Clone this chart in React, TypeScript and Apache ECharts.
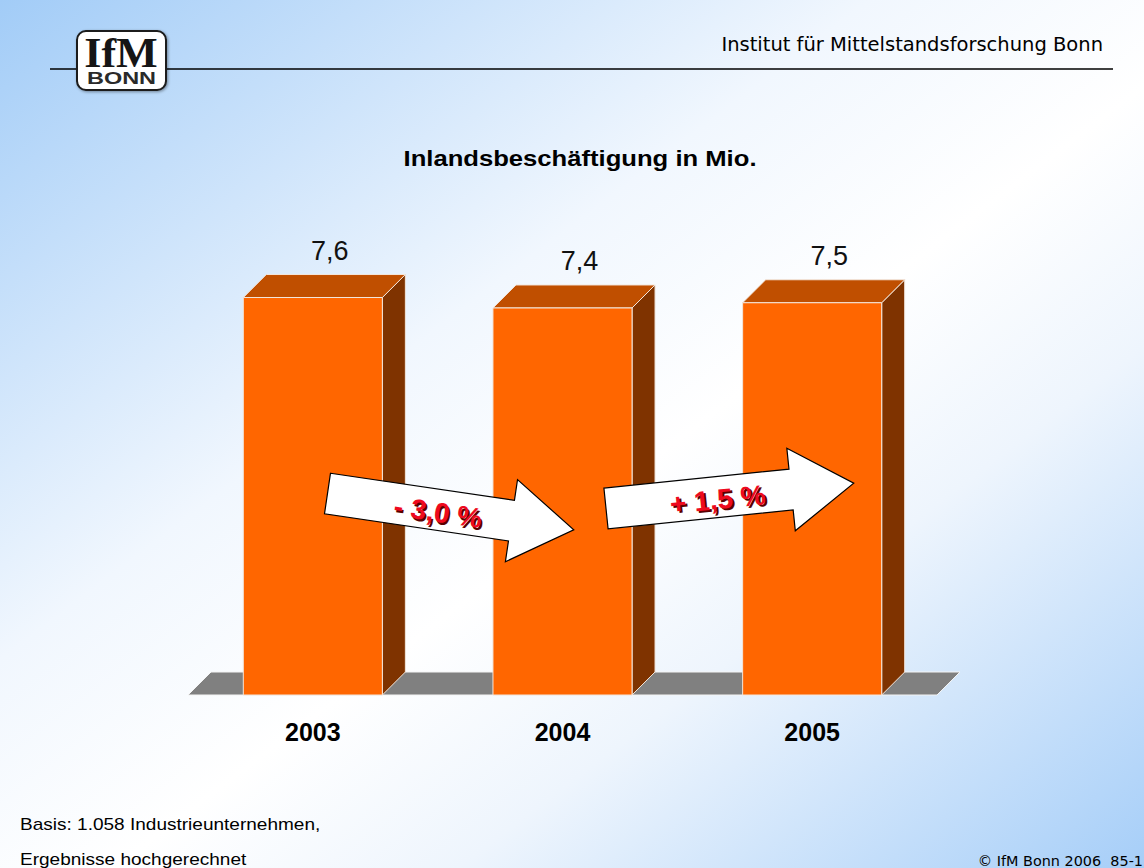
import React, { useEffect, useRef } from "react";
import * as echarts from "echarts";

const years = ["2003", "2004", "2005"];
const employment = [7.6, 7.4, 7.5];
const changeLabels = ["- 3,0 %", "+ 1,5 %"];
const titleText = "Inlandsbeschäftigung in Mio.";
const headerText = "Institut für Mittelstandsforschung Bonn";
const footerLines = ["Basis: 1.058 Industrieunternehmen,", "Ergebnisse hochgerechnet"];
const copyrightText = "© IfM Bonn 2006  85-1";

const SANS = '"Liberation Sans", Arial, sans-serif';
const VERDANA = '"DejaVu Sans", Verdana, sans-serif';
const DX = 23;
const DY = 23;

function txt(x: number, y: number, text: string, font: string, fill: string, align = "center", vAlign = "middle", extra: any = {}) {
  return {
    type: "text",
    x,
    y,
    ...extra,
    style: { text, font, fill, align, verticalAlign: vAlign, textAlign: align, textVerticalAlign: vAlign },
  };
}

function arrow(x: number, y: number, rotation: number, label: string) {
  const pts = [
    [0, -20.5],
    [186, -20.5],
    [186, -41.5],
    [249, 0],
    [186, 41.5],
    [186, 20.5],
    [0, 20.5],
  ];
  return {
    type: "group",
    x,
    y,
    rotation,
    z: 100,
    children: [
      { type: "polygon", z: 100, shape: { points: pts }, style: { fill: "#ffffff", stroke: "#000000", lineWidth: 1.2 } },
      txt(114, 4.5, label, `bold 28px ${SANS}`, "#5a0000", "center", "middle", { z: 101 }),
      txt(112, 2.5, label, `bold 28px ${SANS}`, "#ee0a1e", "center", "middle", { z: 102 }),
    ],
  };
}

export default function App() {
  const ref = useRef<HTMLDivElement>(null);
  useEffect(() => {
    if (!ref.current) return;
    const chart = echarts.init(ref.current, null, { renderer: "svg" });
    const option: any = {
      animation: false,
      backgroundColor: new echarts.graphic.LinearGradient(0, 0, 1, 1, [
        { offset: 0, color: "#a2ccf7" },
        { offset: 0.38, color: "#f1f7fe" },
        { offset: 0.55, color: "#ffffff" },
        { offset: 0.7, color: "#eef5fd" },
        { offset: 1, color: "#a6cef8" },
      ]),
      grid: { left: 188, right: 207, top: 172, bottom: 173 },
      xAxis: {
        type: "category",
        data: years,
        axisLine: { show: false },
        axisTick: { show: false },
        axisLabel: { fontSize: 25, fontWeight: "bold", color: "#000", fontFamily: SANS, margin: 24 },
      },
      yAxis: { type: "value", min: 0, max: 10, show: false, splitLine: { show: false } },
      series: [
        {
          type: "custom",
          silent: true,
          z: 1,
          data: [[0, 0]],
          renderItem: (params: any, api: any) => {
            const cs = params.coordSys;
            const yb = cs.y + cs.height;
            const x0 = cs.x;
            const x1 = cs.x + cs.width;
            return {
              type: "polygon",
              shape: { points: [[x0, yb], [x0 + DX, yb - DY], [x1 + DX, yb - DY], [x1, yb]] },
              style: { fill: "#808080", stroke: "#f4f4f4", lineWidth: 1 },
            };
          },
        },
        {
          type: "custom",
          silent: true,
          z: 2,
          data: years.map((y, i) => [i, employment[i]]),
          renderItem: (params: any, api: any) => {
            const xi = api.value(0);
            const v = api.value(1);
            const top = api.coord([xi, v]);
            const base = api.coord([xi, 0]);
            const bw = api.size([1, 0])[0] * 0.557;
            const l = top[0] - bw / 2;
            const r = top[0] + bw / 2;
            const ty = top[1];
            const by = base[1];
            const label = v.toFixed(1).replace(".", ",");
            return {
              type: "group",
              children: [
                {
                  type: "polygon",
                  shape: { points: [[r, ty], [r + DX, ty - DY], [r + DX, by - DY], [r, by]] },
                  style: { fill: "#7f3300", stroke: "#f2e6dc", lineWidth: 1 },
                },
                {
                  type: "polygon",
                  shape: { points: [[l, ty], [l + DX, ty - DY], [r + DX, ty - DY], [r, ty]] },
                  style: { fill: "#c04f00", stroke: "#f2e6dc", lineWidth: 1 },
                },
                {
                  type: "rect",
                  shape: { x: l, y: ty, width: bw, height: by - ty },
                  style: { fill: "#ff6600", stroke: "#f2e6dc", lineWidth: 1 },
                },
                txt(top[0] + 17, ty - DY - 24, label, `27px ${SANS}`, "#111111"),
              ],
            };
          },
        },
      ],
      graphic: [
        { type: "line", z: 50, shape: { x1: 50, y1: 69, x2: 1113, y2: 69 }, style: { stroke: "#000", lineWidth: 1.5 } },
        {
          type: "rect",
          z: 51,
          shape: { x: 77, y: 31, width: 89, height: 59, r: 9 },
          style: { fill: "#ffffff", stroke: "#1a1a1a", lineWidth: 2, shadowBlur: 3, shadowColor: "rgba(0,0,0,0.4)", shadowOffsetX: 1, shadowOffsetY: 1 },
        },
        txt(121, 53, "IfM", `bold 42px "Liberation Serif", "Times New Roman", serif`, "#151515", "center", "middle", { scaleX: 1.05, z: 52 }),
        txt(121.5, 78, "BONN", `bold 17px ${SANS}`, "#2a2a2a", "center", "middle", { scaleX: 1.38, z: 52 }),
        txt(1103, 44, headerText, `19.5px ${VERDANA}`, "#000000", "right", "middle", { z: 52 }),
        txt(580, 158, titleText, `bold 22px ${SANS}`, "#000000", "center", "middle", { scaleX: 1.165, z: 52 }),
        arrow(327.5, 493.5, -0.147, changeLabels[0]),
        arrow(606, 508.5, 0.102, changeLabels[1]),
        txt(20, 824, footerLines[0], `17px ${SANS}`, "#000000", "left", "middle", { scaleX: 1.12, z: 52 }),
        txt(20, 859, footerLines[1], `17px ${SANS}`, "#000000", "left", "middle", { scaleX: 1.12, z: 52 }),
        txt(1143, 861, copyrightText, `14.4px ${VERDANA}`, "#000000", "right", "middle", { z: 52 }),
      ],
    };
    chart.setOption(option);
    return () => chart.dispose();
  }, []);
  return <div ref={ref} style={{ position: "fixed", left: 0, top: 0, width: 1144, height: 868 }} />;
}
